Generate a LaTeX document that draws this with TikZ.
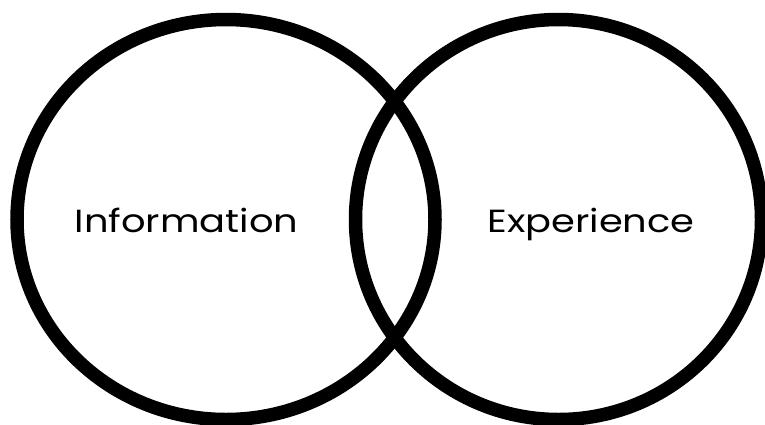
\documentclass[tikz,border=0pt]{standalone}
\usepackage{fontspec}
\setmainfont{Poppins}[FakeStretch=1.2]
\begin{document}
\begin{tikzpicture}[x=1pt,y=-1pt,
  ring/.style={draw=black,line width=13.5pt},
  lbl/.style={anchor=base,inner sep=0pt,font=\fontsize{32}{38}\selectfont}]
\useasboundingbox (0,0) rectangle (765,424);
\draw[ring] (226,219.5) ellipse [x radius=209,y radius=200];
\draw[ring] (558.5,219.5) ellipse [x radius=203,y radius=200];
\node[lbl] (info) at (186.5,232.5) {Information};
\node[lbl] (exp) at (591,232.5) {Experience};
\end{tikzpicture}
\end{document}
